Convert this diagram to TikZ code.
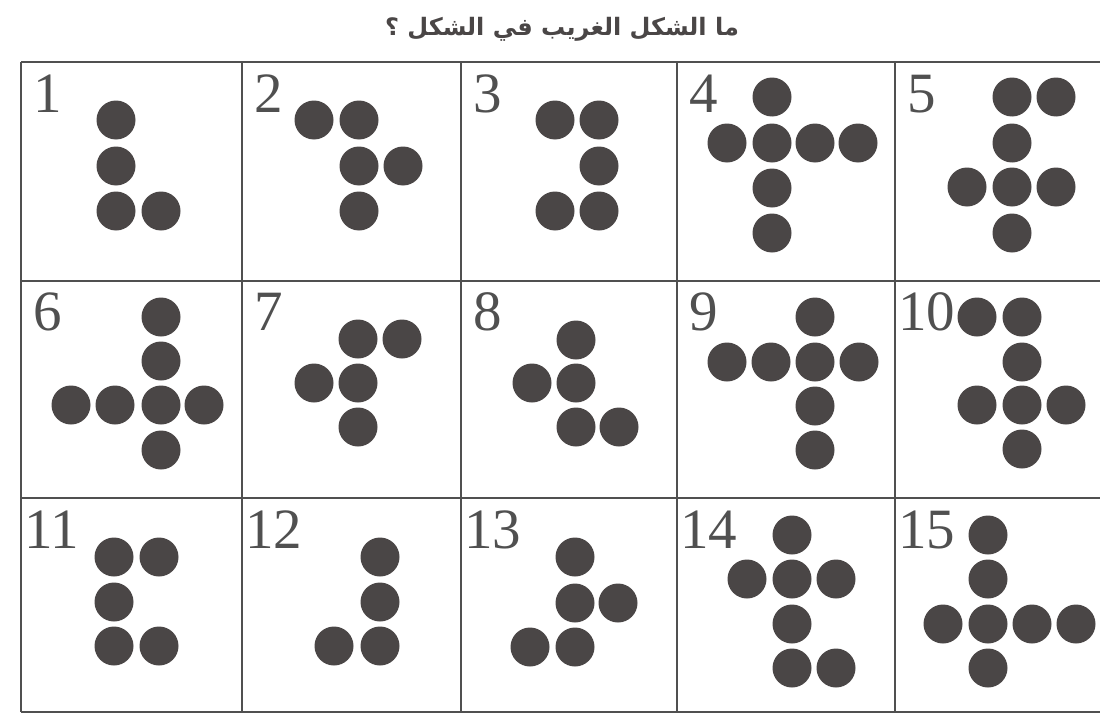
\documentclass[tikz,border=0pt]{standalone}
\usepackage{fontspec}
\setmainfont{Liberation Serif}
\newfontfamily\arabicfont[Script=Arabic]{DejaVu Sans}
\TeXXeTstate=1
\definecolor{ink}{HTML}{4A4646}
\definecolor{linec}{HTML}{505050}
\definecolor{numc}{HTML}{505050}
\tikzset{
  gridline/.style={draw=linec, line width=1.6pt},
  dotfill/.style={fill=ink},
  numlabel/.style={anchor=base west, inner sep=0pt, text=numc, font=\fontsize{57}{57}\selectfont},
  titlelabel/.style={anchor=center, inner sep=0pt, text=ink, font=\arabicfont\bfseries\fontsize{24}{24}\selectfont}
}
\begin{document}
\begin{tikzpicture}[x=1pt,y=-1pt]
\useasboundingbox (0,0) rectangle (1100,717);
\fill[white] (0,0) rectangle (1100,717);
% title
\node[titlelabel] (title) at (562,29) {\beginR ما الشكل الغريب في الشكل ؟\endR};
% grid
\foreach \yy in {62,281,498,712} \draw[gridline] (21,\yy) -- (1100,\yy);
\foreach \xx in {21,242,461,677,895} \draw[gridline] (\xx,62) -- (\xx,712);
% numbers
\foreach \n/\xx/\yy in {1/33/112,2/254/112,3/473/112,4/689/112,5/907/112,
                        6/33/330,7/254/330,8/473/330,9/689/330,10/898/330,
                        11/24/548,12/245/548,13/464/548,14/680/548,15/898/548}
  \node[numlabel] (n\n) at (\xx,\yy) {\n};
% dots
\foreach \p in {(116,120),(116,166),(116,211),(161,211),
  (314,120),(359,120),(359,166),(403,166),(359,211),
  (555,120),(599,120),(599,166),(555,211),(599,211),
  (772,97),(727,143),(772,143),(815,143),(858,143),(772,188),(772,233),
  (1012,97),(1056,97),(1012,143),(967,187),(1012,187),(1056,187),(1012,233),
  (161,317),(161,361),(71,405),(115,405),(161,405),(204,405),(161,450),
  (358,339),(402,339),(314,383),(358,383),(358,427),
  (576,340),(532,383),(576,383),(576,427),(619,427),
  (815,317),(727,362),(771,362),(815,362),(859,362),(815,406),(815,450),
  (977,317),(1022,317),(1022,362),(977,405),(1022,405),(1066,405),(1022,449),
  (114,557),(159,557),(114,602),(114,646),(159,646),
  (380,557),(380,602),(334,646),(380,646),
  (575,557),(575,603),(618,603),(530,647),(575,647),
  (792,535),(747,579),(792,579),(836,579),(792,624),(792,668),(836,668),
  (988,535),(988,579),(943,624),(988,624),(1032,624),(1076,624),(988,668)}
  \fill[dotfill] \p circle[radius=19.5];
\end{tikzpicture}
\end{document}
